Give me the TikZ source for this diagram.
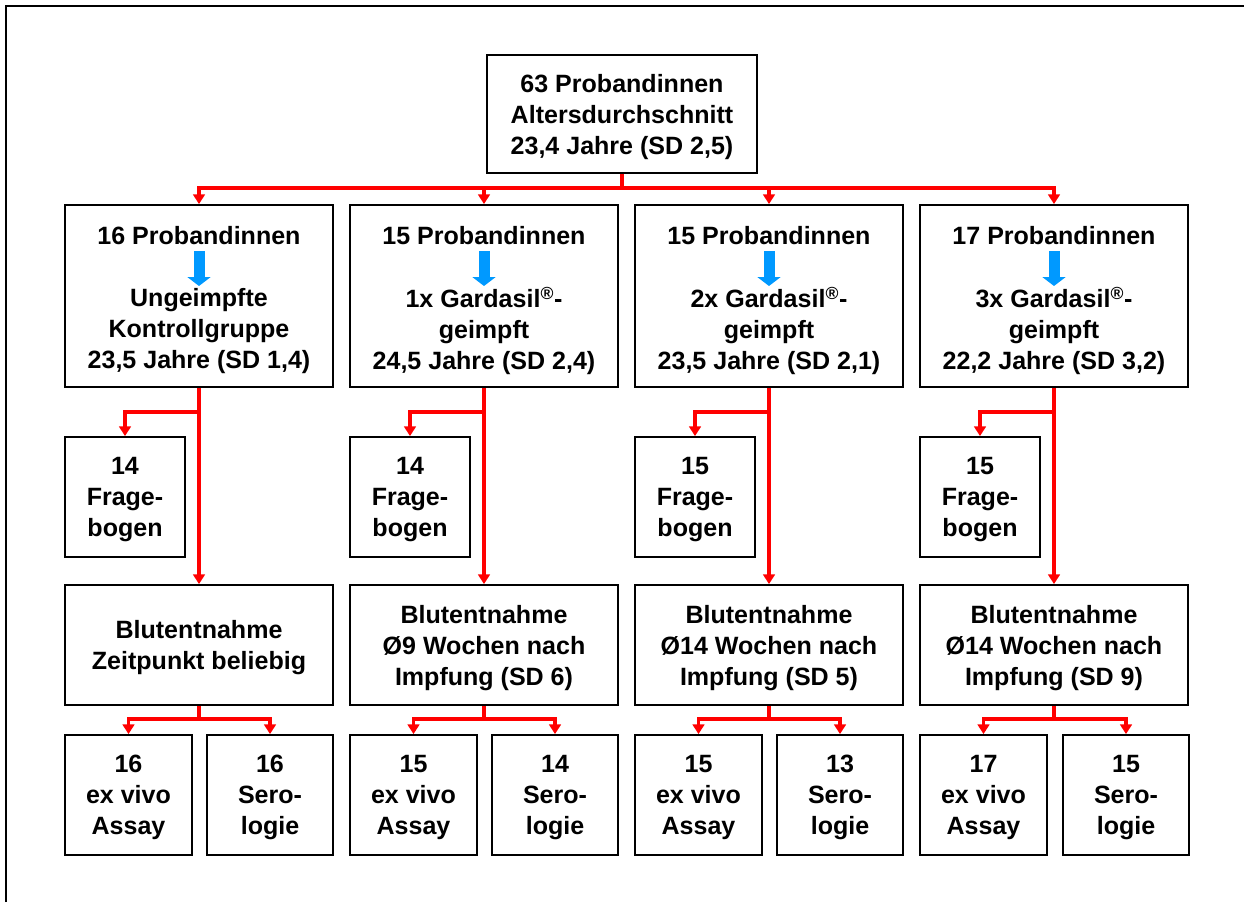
\documentclass[tikz,border=0pt]{standalone}
\usepackage{fontspec}
\setmainfont{Liberation Sans}
\usetikzlibrary{arrows.meta}
\definecolor{pfeilrot}{RGB}{255,0,0}
\definecolor{pfeilblau}{RGB}{0,153,255}
\tikzset{
  beschr/.style={align=center, inner sep=0pt, font=\fontsize{17.8}{22}\selectfont\bfseries},
  rahmen/.style={draw, line width=1.3pt, inner sep=0pt},
  kasten/.style={beschr, rahmen, text depth=-1.5pt},
  gruppe/.style={rahmen, minimum width=6.7cm, minimum height=4.55cm},
  blut/.style={kasten, minimum width=6.7cm, minimum height=3cm},
  klein/.style={kasten, minimum width=3cm, minimum height=3cm},
  probe/.style={kasten, minimum width=3.175cm, minimum height=3cm},
  rotlinie/.style={pfeilrot, line width=2.2pt},
  rotpfeil/.style={rotlinie, -{Triangle[width=0.29cm,length=0.24cm]}},
  blaupfeil/.style={pfeilblau, line width=0.275cm, -{Triangle[width=0.575cm,length=0.225cm]}}
}
\begin{document}
\begin{tikzpicture}[x=0.025cm,y=-0.025cm]
    \useasboundingbox (0,0) rectangle (1244,902);
    \draw[line width=1.5pt] (6,902) -- (6,6) -- (1244,6);
    % Gesamtgruppe
    \node[kasten, minimum width=6.75cm, minimum height=2.95cm] (alle) at (622,114) {63 Probandinnen\\Altersdurchschnitt\\23,4 Jahre (SD 2,5)};
    % Gruppen
    \node[gruppe] (g1) at (199,296) {};
    \node[beschr] (g1a) at (199,236) {16 Probandinnen};
    \node[beschr] (g1b) at (199,331) {Ungeimpfte\\Kontrollgruppe\\23,5 Jahre (SD 1,4)};
    \node[gruppe] (g2) at (484,296) {};
    \node[beschr] (g2a) at (484,236) {15 Probandinnen};
    \node[beschr] (g2b) at (484,331) {1x Gardasil\textsuperscript{®}-\\geimpft\\24,5 Jahre (SD 2,4)};
    \node[gruppe] (g3) at (769,296) {};
    \node[beschr] (g3a) at (769,236) {15 Probandinnen};
    \node[beschr] (g3b) at (769,331) {2x Gardasil\textsuperscript{®}-\\geimpft\\23,5 Jahre (SD 2,1)};
    \node[gruppe] (g4) at (1054,296) {};
    \node[beschr] (g4a) at (1054,236) {17 Probandinnen};
    \node[beschr] (g4b) at (1054,331) {3x Gardasil\textsuperscript{®}-\\geimpft\\22,2 Jahre (SD 3,2)};
    \draw[blaupfeil] (g1a) ++(0,15) -- ++(0,35);
    \draw[blaupfeil] (g2a) ++(0,15) -- ++(0,35);
    \draw[blaupfeil] (g3a) ++(0,15) -- ++(0,35);
    \draw[blaupfeil] (g4a) ++(0,15) -- ++(0,35);
    % Frageboegen
    \node[klein] (f1) at (125,497) {14\\Frage-\\bogen};
    \node[klein] (f2) at (410,497) {14\\Frage-\\bogen};
    \node[klein] (f3) at (695,497) {15\\Frage-\\bogen};
    \node[klein] (f4) at (980,497) {15\\Frage-\\bogen};
    % Blutentnahme
    \node[blut] (b1) at (199,645) {Blutentnahme\\Zeitpunkt beliebig};
    \node[blut] (b2) at (484,645) {Blutentnahme\\Ø9 Wochen nach\\Impfung (SD 6)};
    \node[blut] (b3) at (769,645) {Blutentnahme\\Ø14 Wochen nach\\Impfung (SD 5)};
    \node[blut] (b4) at (1054,645) {Blutentnahme\\Ø14 Wochen nach\\Impfung (SD 9)};
    % Proben
    \node[probe] (e1) at (128.5,795) {16\\ex vivo\\Assay};
    \node[probe, minimum width=3.15cm] (s1) at (270,795) {16\\Sero-\\logie};
    \node[probe] (e2) at (413.5,795) {15\\ex vivo\\Assay};
    \node[probe, minimum width=3.15cm] (s2) at (555,795) {14\\Sero-\\logie};
    \node[probe] (e3) at (698.5,795) {15\\ex vivo\\Assay};
    \node[probe, minimum width=3.15cm] (s3) at (840,795) {13\\Sero-\\logie};
    \node[probe] (e4) at (983.5,795) {17\\ex vivo\\Assay};
    \node[probe, minimum width=3.15cm] (s4) at (1126,795) {15\\Sero-\\logie};
    % Verbindungen oben
    \coordinate (verteiler) at (alle.south |- 0,188);
    \draw[rotlinie] (alle.south) -- (verteiler);
    \draw[rotpfeil] (verteiler) -| (g1.north);
    \draw[rotpfeil] (verteiler) -| (g2.north);
    \draw[rotpfeil] (verteiler) -| (g3.north);
    \draw[rotpfeil] (verteiler) -| (g4.north);
    % Verbindungen Gruppen
    \coordinate (k1) at (g1.south |- 0,412);
    \coordinate (k2) at (g2.south |- 0,412);
    \coordinate (k3) at (g3.south |- 0,412);
    \coordinate (k4) at (g4.south |- 0,412);
    \draw[rotpfeil] (g1.south) -- (b1.north);
    \draw[rotpfeil] (g2.south) -- (b2.north);
    \draw[rotpfeil] (g3.south) -- (b3.north);
    \draw[rotpfeil] (g4.south) -- (b4.north);
    \draw[rotpfeil] (k1) -| (f1.north);
    \draw[rotpfeil] (k2) -| (f2.north);
    \draw[rotpfeil] (k3) -| (f3.north);
    \draw[rotpfeil] (k4) -| (f4.north);
    % Verbindungen unten
    \coordinate (u1) at (b1.south |- 0,719);
    \coordinate (u2) at (b2.south |- 0,719);
    \coordinate (u3) at (b3.south |- 0,719);
    \coordinate (u4) at (b4.south |- 0,719);
    \draw[rotlinie] (b1.south) -- (u1);
    \draw[rotlinie] (b2.south) -- (u2);
    \draw[rotlinie] (b3.south) -- (u3);
    \draw[rotlinie] (b4.south) -- (u4);
    \draw[rotpfeil] (u1) -| (e1.north);
    \draw[rotpfeil] (u1) -| (s1.north);
    \draw[rotpfeil] (u2) -| (e2.north);
    \draw[rotpfeil] (u2) -| (s2.north);
    \draw[rotpfeil] (u3) -| (e3.north);
    \draw[rotpfeil] (u3) -| (s3.north);
    \draw[rotpfeil] (u4) -| (e4.north);
    \draw[rotpfeil] (u4) -| (s4.north);
\end{tikzpicture}
\end{document}
